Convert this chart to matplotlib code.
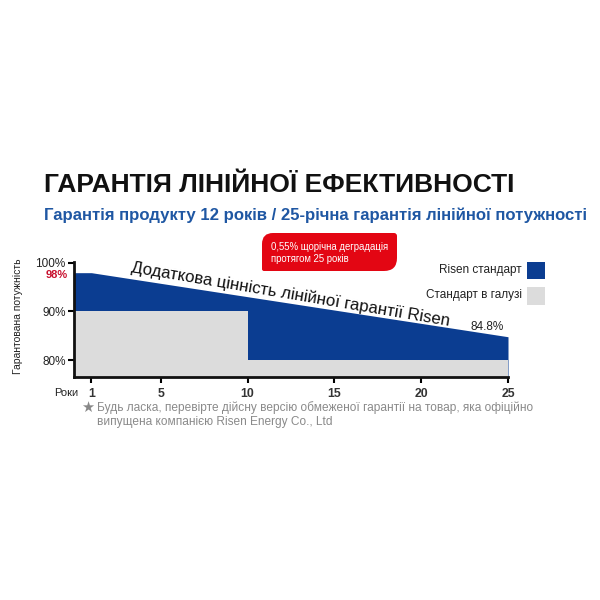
import matplotlib
matplotlib.use("Agg")
import matplotlib.pyplot as plt
from matplotlib.patches import Rectangle, PathPatch
from matplotlib.path import Path

plt.rcParams['font.family'] = ['Liberation Sans', 'DejaVu Sans']

# ---- data ----
risen_years = [0, 1, 25]
risen_values = [98, 98, 84.8]
industry_years = [0, 10, 25]
industry_values = [90, 80, 80]
x_ticks = [1, 5, 10, 15, 20, 25]
y_ticks = [80, 90, 100]
y_tick_labels = ["80%", "90%", "100%"]
end_label = "84.8%"
start_label = "98%"

title = "ГАРАНТІЯ ЛІНІЙНОЇ ЕФЕКТИВНОСТІ"
subtitle = "Гарантія продукту 12 років / 25-річна гарантія лінійної потужності"
badge_lines = "0,55% щорічна деградація\nпротягом 25 років"
diag_text = "Додаткова цінність лінійної гарантії Risen"
legend_labels = ["Risen стандарт", "Стандарт в галузі"]
ylabel = "Гарантована потужність"
xlabel = "Роки"
footnote = "Будь ласка, перевірте дійсну версію обмеженої гарантії на товар, яка офіційно\nвипущена компанією Risen Energy Co., Ltd"

BLUE = "#0b3d91"
GRAY = "#dcdcdc"
RED = "#e30613"
SUBBLUE = "#1f57a3"

W = H = 600
fig = plt.figure(figsize=(6, 6), dpi=100)
fig.patch.set_facecolor("white")

def fx(x):
    return x / W

def fy(y):
    return 1 - y / H

# axes: left 74px, right 508px, top 262px, bottom 377px
ax = fig.add_axes([fx(74), fy(377), (508 - 74) / W, (377 - 262) / H])
ax.set_xlim(0, 25)
ax.set_ylim(76.5, 100.2)

ax.fill_between(risen_years, 76.5, risen_values, color=BLUE, lw=0, zorder=1)
ax.fill_between(industry_years, 76.5, industry_values, step="post", color=GRAY, lw=0, zorder=2)

for s in ["top", "right"]:
    ax.spines[s].set_visible(False)
for s in ["left", "bottom"]:
    ax.spines[s].set_linewidth(2)
    ax.spines[s].set_color("#111111")

ax.set_xticks(x_ticks)
ax.set_xticklabels([str(t) for t in x_ticks], fontsize=8.8, fontweight="bold", color="#333333")
ax.set_yticks(y_ticks)
ax.set_yticklabels(y_tick_labels, fontsize=8.5, color="#222222")
ax.tick_params(axis="y", length=4, width=1.5, pad=2)
ax.tick_params(axis="x", length=4, width=1.5, pad=4)

# 98% label
ax.text(-0.35, 97.6, start_label, ha="right", va="center", fontsize=8, fontweight="bold",
        color="#c8102e")
# end label
ax.text(23.8, 85.5, end_label, ha="center", va="bottom", fontsize=8.5, color="#222222")

# diagonal text
fig.text(fx(131), fy(272), diag_text, rotation=-9.6, rotation_mode="anchor",
         ha="left", va="baseline", fontsize=12.1, color="#111111")

# title + subtitle
fig.text(fx(44), fy(185), title, ha="left", va="center", fontsize=19, fontweight="bold", color="#111111")
fig.text(fx(44), fy(215), subtitle, ha="left", va="center", fontsize=12.1, fontweight="bold", color=SUBBLUE)

# red badge (leaf-shaped rounded box)
x0, x1, yt, yb = 262, 397, 233, 271
rtl, rtr, rbr, rbl = 11, 3, 13, 2
pts = [
    (x0 + rtl, yt), (x1 - rtr, yt), (x1, yt), (x1, yt + rtr),
    (x1, yb - rbr), (x1, yb), (x1 - rbr, yb),
    (x0 + rbl, yb), (x0, yb), (x0, yb - rbl),
    (x0, yt + rtl), (x0, yt), (x0 + rtl, yt),
]
codes = [Path.MOVETO, Path.LINETO, Path.CURVE3, Path.CURVE3,
         Path.LINETO, Path.CURVE3, Path.CURVE3,
         Path.LINETO, Path.CURVE3, Path.CURVE3,
         Path.LINETO, Path.CURVE3, Path.CURVE3]
badge = PathPatch(Path([(fx(a), fy(b)) for a, b in pts], codes), transform=fig.transFigure,
                  facecolor=RED, edgecolor="none")
fig.patches.append(badge)
fig.text(fx(271), fy(253), badge_lines, ha="left", va="center", fontsize=6.9,
         color="white", linespacing=1.3)

# legend
fig.patches.append(Rectangle((fx(527), fy(279)), 18 / W, 17 / H, transform=fig.transFigure,
                             facecolor=BLUE, edgecolor="none"))
fig.patches.append(Rectangle((fx(527), fy(305)), 18 / W, 18 / H, transform=fig.transFigure,
                             facecolor=GRAY, edgecolor="none"))
fig.text(fx(522), fy(270), legend_labels[0], ha="right", va="center", fontsize=8.5, color="#222222")
fig.text(fx(522), fy(295), legend_labels[1], ha="right", va="center", fontsize=8.5, color="#222222")

# axis labels
fig.text(fx(18), fy(316), ylabel, rotation=90, ha="center", va="center", fontsize=7.5, color="#222222")
fig.text(fx(66), fy(393), xlabel, ha="center", va="center", fontsize=8, color="#222222")

# footnote
fig.text(fx(81), fy(407), "★", ha="left", va="center", fontsize=10.5, color="#888888", family="DejaVu Sans")
fig.text(fx(97), fy(414.5), footnote, ha="left", va="center", fontsize=8.6, color="#8a8a8a",
         linespacing=1.3)

fig.savefig("out.png", dpi=100, facecolor="white")
